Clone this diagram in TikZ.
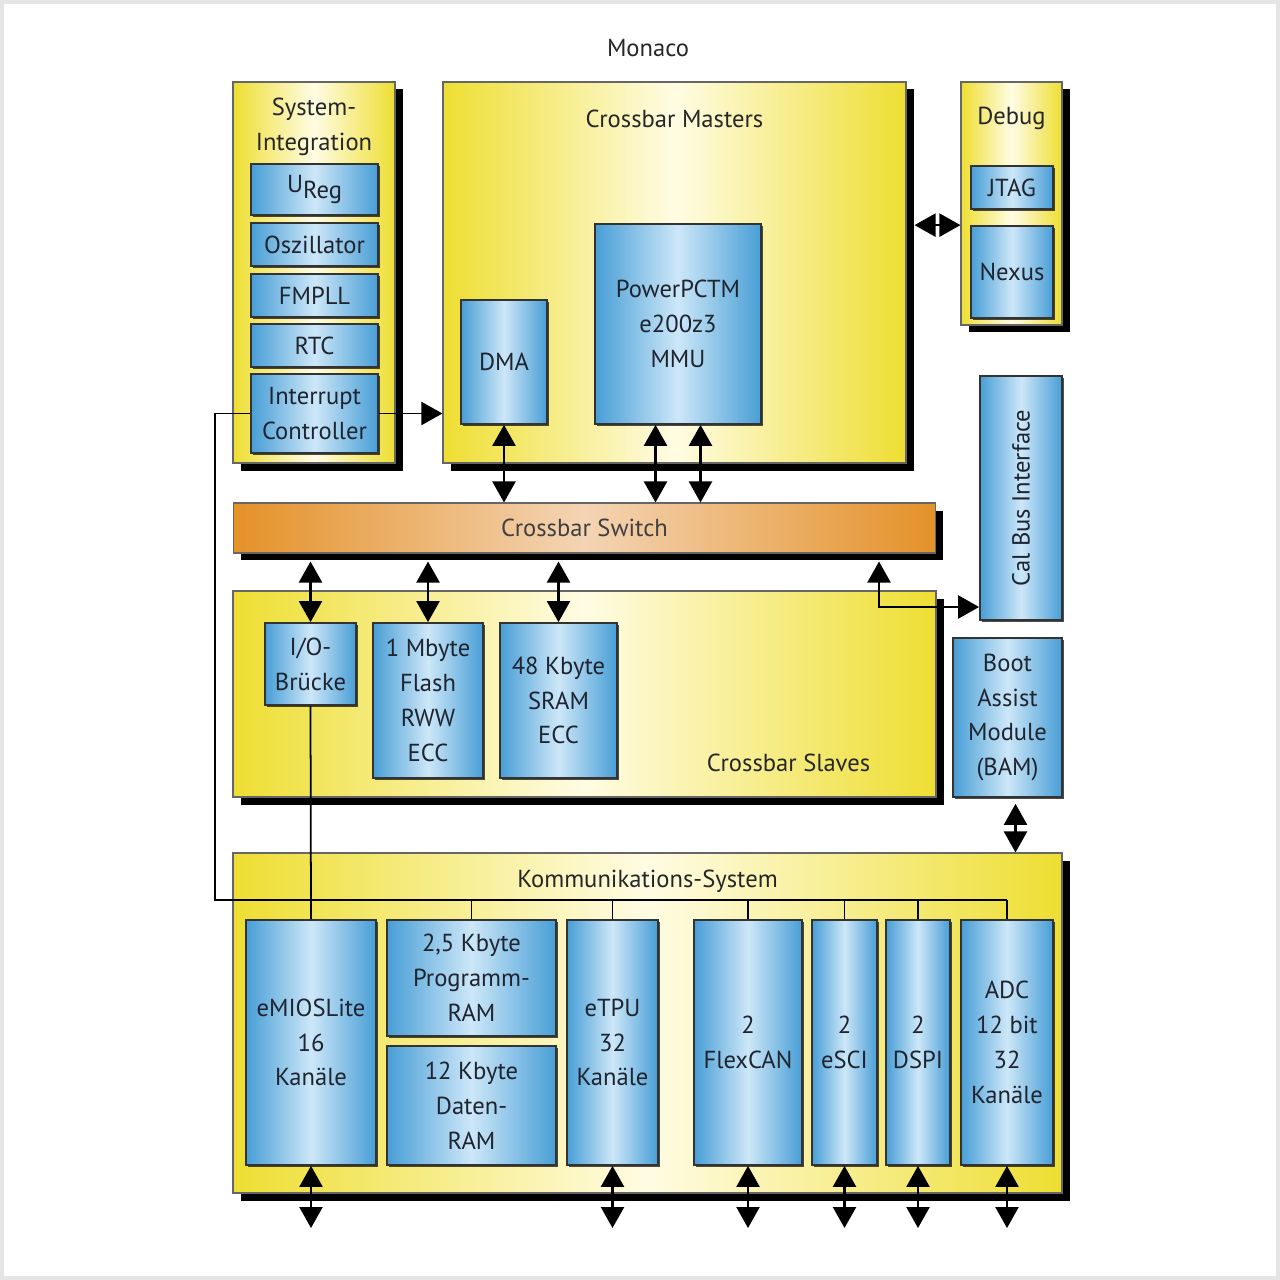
\documentclass[tikz,border=0pt]{standalone}
\usepackage{fontspec}
\setmainfont{PT Sans}
\usetikzlibrary{positioning,calc,shadows,arrows.meta}
\definecolor{yl}{RGB}{238,222,50}
\definecolor{yllight}{RGB}{255,252,228}
\definecolor{bl}{RGB}{72,158,214}
\definecolor{bllight}{RGB}{205,231,248}
\definecolor{og}{RGB}{228,145,40}
\definecolor{oglight}{RGB}{244,212,180}
\definecolor{txt}{RGB}{30,36,48}

\begin{document}
\begin{tikzpicture}[x=0.02cm, y=-0.02cm,
    font=\fontsize{14}{19.8}\selectfont,
    outer/.style={draw=black!60, line width=0.6pt, left color=yl, right color=yl, middle color=yllight,
        drop shadow={shadow xshift=0.15cm, shadow yshift=-0.15cm, fill=black, opacity=1}, inner sep=0pt},
    inbox/.style={draw=black!80, line width=1pt, left color=bl, right color=bl, middle color=bllight,
        drop shadow={shadow xshift=0.04cm, shadow yshift=-0.04cm, fill=black, opacity=0.7},
        align=center, text=txt, inner sep=0pt},
    lbl/.style={text=black!85, align=center},
    dbl/.style={line width=1.3pt, {Triangle[width=0.46cm,length=0.42cm]}-{Triangle[width=0.46cm,length=0.42cm]}},
    wire/.style={line width=1pt}
]
    \useasboundingbox (0,0) rectangle (1280,1280);
    \draw[gray!20, line width=2.5pt] (2,2) rectangle (1278,1278);
    \node[lbl] (title) at (648,48) {Monaco};

    % Outer blocks
    \foreach \n/\xa/\ya/\xb/\yb in {sys/233/82/395/463, masters/443/82/906/463, debug/961/82/1062/325,
        slaves/233/591/936/797, komm/233/853/1062/1193} {
        \node[outer, minimum width={(\xb-\xa)*0.02cm}, minimum height={(\yb-\ya)*0.02cm}] (\n) at ({(\xa+\xb)/2},{(\ya+\yb)/2}) {};
    }
    \node[outer, left color=og, right color=og, middle color=oglight, text=black!75,
        minimum width=14.06cm, minimum height=1cm] (sw) at (584.5,528) {Crossbar Switch};

    \node[lbl] at ([yshift=-0.9cm]sys.north) {System-\\Integration};
    \node[lbl] at ([yshift=-0.74cm]masters.north) {Crossbar Masters};
    \node[lbl] at ([yshift=-0.74cm]debug.north) {Debug};
    \node[lbl] at ([xshift=-2.96cm, yshift=0.7cm]slaves.south east) {Crossbar Slaves};
    \node[lbl] at ([yshift=-0.58cm]komm.north) {Kommunikations-System};

    % Inner blocks
    \foreach \n/\xa/\ya/\xb/\yb/\txt in {ureg/251/164/378/215/{U\raisebox{-0.55ex}{Reg}}, osc/251/223/378/266/Oszillator,
        pll/251/274/378/317/FMPLL, rtc/251/324/378/367/RTC, ic/251/374/378/453/{Interrupt\\Controller},
        dma/461/300/547/424/DMA, ppc/595/224/761/424/{PowerPCTM\\e200z3\\MMU},
        jtag/971/166/1053/209/JTAG, nexus/971/226/1053/318/Nexus,
        cal/980/376/1062/620/{}, bam/953/638/1062/797/{Boot\\Assist\\Module\\(BAM)},
        io/265/623/356/705/{I/O-\\Brücke}, flash/373/623/483/778/{1 Mbyte\\Flash\\RWW\\ECC},
        sram/500/623/617/778/{48 Kbyte\\SRAM\\ECC},
        emios/246/920/376/1165/{eMIOSLite\\16\\Kanäle}, pram/387/920/556/1036/{2,5 Kbyte\\Programm-\\RAM},
        dram/387/1046/556/1165/{12 Kbyte\\Daten-\\RAM}, etpu/567/920/658/1165/{eTPU\\32\\Kanäle},
        can/694/920/802/1165/{2\\FlexCAN}, sci/812/920/877/1165/{2\\eSCI}, spi/886/920/950/1165/{2\\DSPI},
        adc/961/920/1053/1165/{ADC\\12 bit\\32\\Kanäle}} {
        \node[inbox, minimum width={(\xb-\xa)*0.02cm}, minimum height={(\yb-\ya)*0.02cm}] (\n) at ({(\xa+\xb)/2},{(\ya+\yb)/2}) {\txt};
    }
    \node[lbl, text=txt, rotate=90] at (cal) {Cal Bus Interface};

    % Masters to switch
    \draw[dbl] (dma.south) -- (dma.south |- sw.north);
    \draw[dbl] ([xshift=-0.45cm]ppc.south) -- ([xshift=-0.45cm]ppc.south |- sw.north);
    \draw[dbl] ([xshift=0.45cm]ppc.south) -- ([xshift=0.45cm]ppc.south |- sw.north);

    % Switch to slaves
    \foreach \n in {io,flash,sram}
        \draw[dbl] ($(\n.north |- sw.south)+(0,8)$) -- (\n.north);
    \coordinate (bend) at (879,607);
    \draw[dbl] ($(sw.south -| bend)+(0,8)$) -- (bend) -- (cal.west |- bend);

    % Debug, interrupts, BAM
    \draw[dbl] ($(masters.east |- nexus.north)+(8,0)$) -- (debug.west |- nexus.north);
    \draw[wire, -{Triangle[width=0.46cm,length=0.42cm]}] (ic.east) -- (masters.west |- ic.east);
    \draw[dbl] ($(bam.south)+(8,6)$) -- ($(bam.south |- komm.north)+(8,0)$);

    % Peripheral bus
    \coordinate (irq) at (215,900);
    \draw[wire] (ic.west) -| (irq) -- (adc.north |- irq);
    \foreach \n in {pram,etpu,can,sci,spi,adc}
        \draw[wire] (\n.north) -- (\n.north |- irq);
    \draw[wire] (io.south) -- (emios.north);

    % Pins out
    \coordinate (base) at (0,1228);
    \foreach \n in {emios,etpu,can,sci,spi,adc}
        \draw[dbl] (\n.south) -- (\n.south |- base);
\end{tikzpicture}
\end{document}
